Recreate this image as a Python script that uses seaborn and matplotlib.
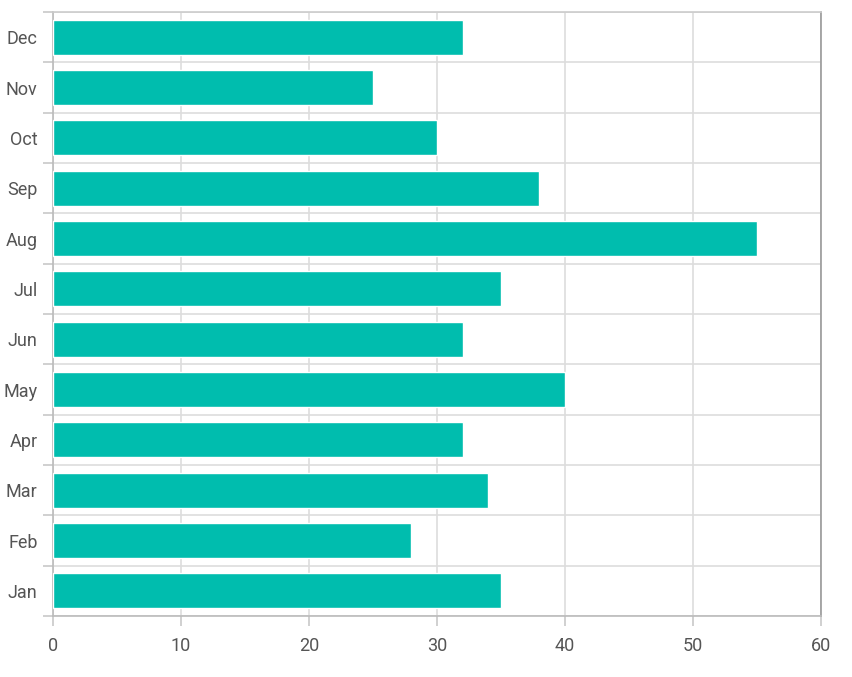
import matplotlib
matplotlib.use("Agg")
import matplotlib.pyplot as plt
import seaborn as sns
import pandas as pd
import numpy as np

months = ["Jan", "Feb", "Mar", "Apr", "May", "Jun", "Jul", "Aug", "Sep", "Oct", "Nov", "Dec"]
values = [35, 28, 34, 32, 40, 32, 35, 55, 38, 30, 25, 32]
x_ticks = [0, 10, 20, 30, 40, 50, 60]

sns.set_style("white")
plt.rcParams['font.family'] = ['Roboto', 'DejaVu Sans']

df = pd.DataFrame({"month": months, "value": values})
order = months[::-1]

fig = plt.figure(figsize=(8.52, 6.77), dpi=100)
ax = fig.add_axes([53/852, 61/677, 768/852, 604/677])

sns.barplot(data=df, y="month", x="value", order=order, orient="h",
            color="#00BDAE", saturation=1, width=0.7, ax=ax, zorder=3)

ax.set_xlim(0, 60)
ax.set_ylim(len(order) - 0.5, -0.5)
ax.set_xticks(x_ticks)
ax.set_xticklabels([str(t) for t in x_ticks])
ax.set_yticks(range(len(order)))
ax.set_yticklabels(order)
ax.set_yticks(np.arange(-0.5, len(order), 1.0), minor=True)
ax.set_xlabel("")
ax.set_ylabel("")

ax.grid(True, axis="x", which="major", color="#dddddd", linewidth=1.2, zorder=0)
ax.grid(True, axis="y", which="minor", color="#dddddd", linewidth=1.2, zorder=0)
ax.set_axisbelow(True)

ax.tick_params(axis="y", which="major", length=0, pad=11, labelsize=13, labelcolor="#555555")
ax.tick_params(axis="y", which="minor", length=7, width=1.2, color="#c8c8c8", left=True)
ax.tick_params(axis="x", which="major", length=7, width=1.2, color="#c8c8c8", bottom=True,
               pad=8, labelsize=13, labelcolor="#555555")

for side, col in [("left", "#bbbbbb"), ("bottom", "#bbbbbb"), ("top", "#cccccc"), ("right", "#999999")]:
    ax.spines[side].set_visible(True)
    ax.spines[side].set_color(col)
    ax.spines[side].set_linewidth(1.2)

fig.savefig("out.png", dpi=100)
